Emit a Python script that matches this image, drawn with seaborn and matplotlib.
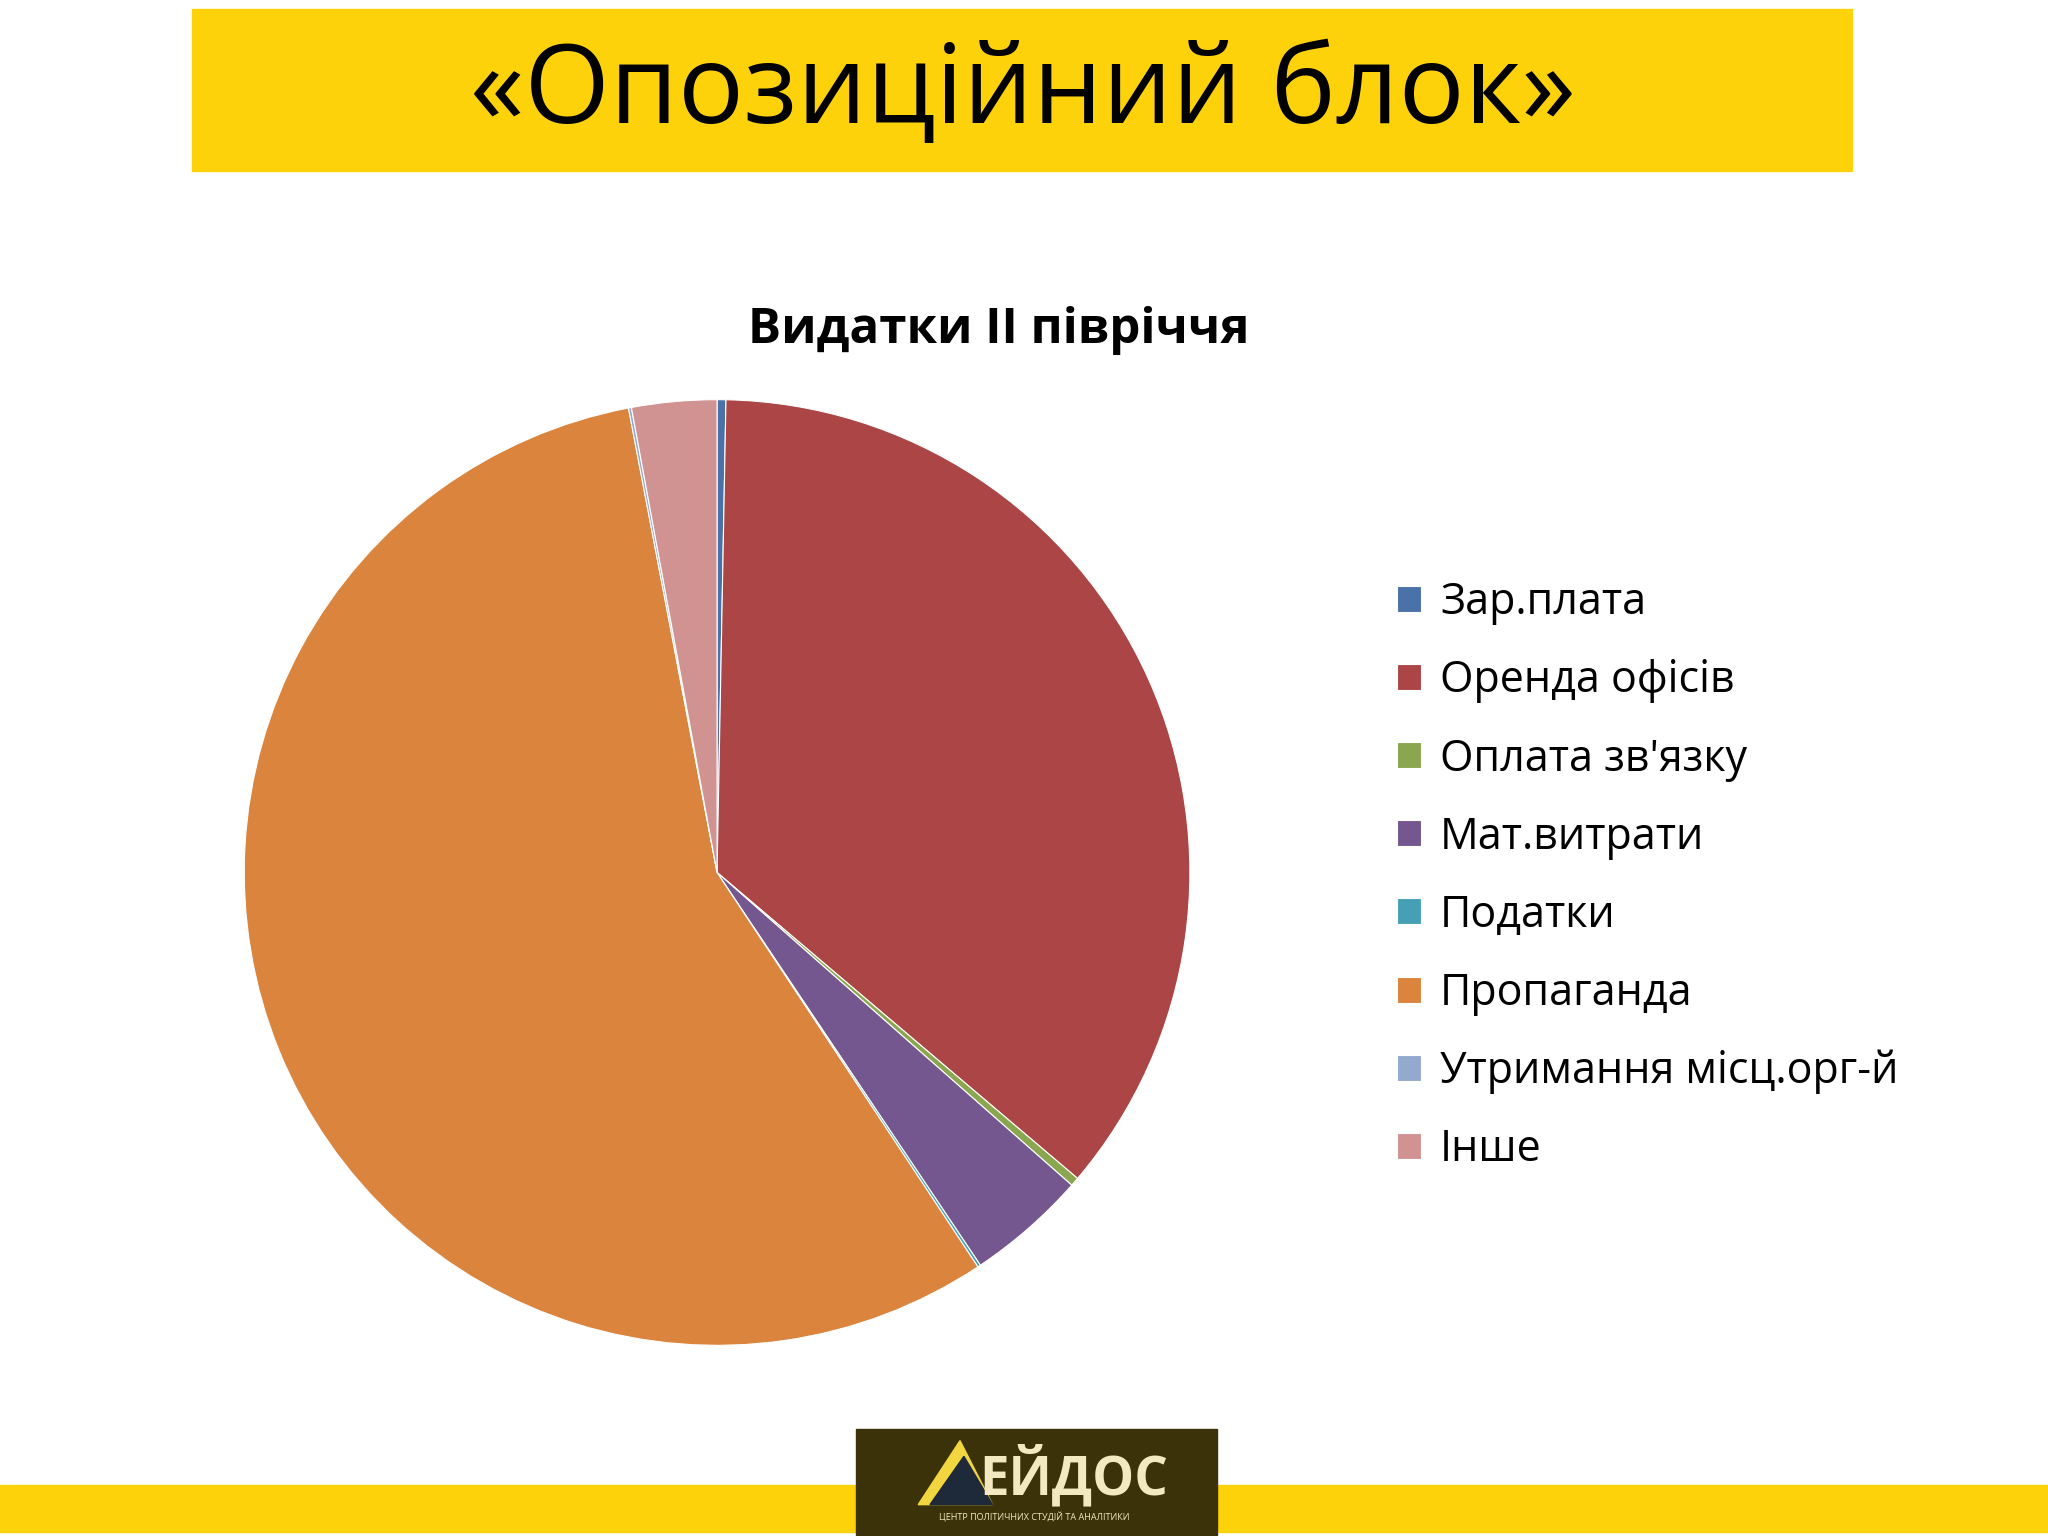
import matplotlib
matplotlib.use("Agg")
import matplotlib.pyplot as plt
import seaborn as sns
from matplotlib.patches import Rectangle, Polygon

sns.set_theme(style="white")
plt.rcParams['font.family'] = ['Open Sans', 'DejaVu Sans']

categories = ["Зар.плата", "Оренда офісів", "Оплата зв'язку", "Мат.витрати",
              "Податки", "Пропаганда", "Утримання місц.орг-й", "Інше"]
values = [0.3, 35.9, 0.3, 4.1, 0.1, 56.3, 0.1, 2.9]
colors = ["#4A72A8", "#AB4546", "#8AA64F", "#74578F", "#45A0B5", "#DB843D", "#93A9CE", "#D19392"]

W, H = 1568, 1176
fig = plt.figure(figsize=(20.48, 15.36), dpi=100)
fig.patch.set_facecolor("white")

def fx(x): return x / W
def fy(y): return 1 - y / H

# title banner
fig.patches.append(Rectangle((fx(147), fy(131)), fx(1418) - fx(147), (131 - 7) / H,
                             transform=fig.transFigure, color="#FDD20A", zorder=0))
fig.text(fx(783), fy(72), "«Опозиційний блок»", ha="center", va="center", fontsize=79, color="black")

# bottom strip
fig.patches.append(Rectangle((0, fy(1173)), 1, (1173 - 1137) / H,
                             transform=fig.transFigure, color="#FDD20A", zorder=0))
fig.patches.append(Rectangle((fx(655), fy(1175)), fx(932) - fx(655), (1175 - 1094) / H,
                             transform=fig.transFigure, color="#3B3209", zorder=1))
fig.patches.append(Polygon([(fx(703), fy(1152)), (fx(735), fy(1103)), (fx(760), fy(1152))],
                           closed=True, transform=fig.transFigure, color="#F2D640", zorder=2))
fig.patches.append(Polygon([(fx(712), fy(1152)), (fx(738), fy(1115)), (fx(760), fy(1152))],
                           closed=True, transform=fig.transFigure, color="#1E2A3A", zorder=3))
fig.text(fx(822), fy(1130), "ЕЙДОС", ha="center", va="center", fontsize=38, color="#F2E9C0",
         fontweight="bold", fontstretch="condensed")
fig.text(fx(792), fy(1162), "ЦЕНТР ПОЛІТИЧНИХ СТУДІЙ ТА АНАЛІТИКИ", ha="center", va="center",
         fontsize=6.5, color="#F2E9C0")

# chart title
fig.text(fx(765), fy(253), "Видатки ІІ півріччя", ha="center", va="center",
         fontsize=35.5, fontweight="bold", color="black")

cx, cy, r = 549, 668, 362
ax = fig.add_axes([fx(cx - r), fy(cy + r), 2 * r / W, 2 * r / H])
wedges, _ = ax.pie(values, colors=colors, startangle=90, counterclock=False,
                   wedgeprops=dict(linewidth=0.8, edgecolor="white"))
ax.set_xlim(-1, 1)
ax.set_ylim(-1, 1)
ax.set_aspect("equal")
ax.axis("off")

leg = fig.legend(wedges, categories, loc="center left", bbox_to_anchor=(fx(1040), fy(671)),
                 frameon=False, fontsize=31, handlelength=0.55, handleheight=0.55,
                 handletextpad=0.45, labelspacing=0.78)
for t in leg.get_texts():
    t.set_color("black")

fig.savefig("out.png", dpi=100, facecolor="white")
